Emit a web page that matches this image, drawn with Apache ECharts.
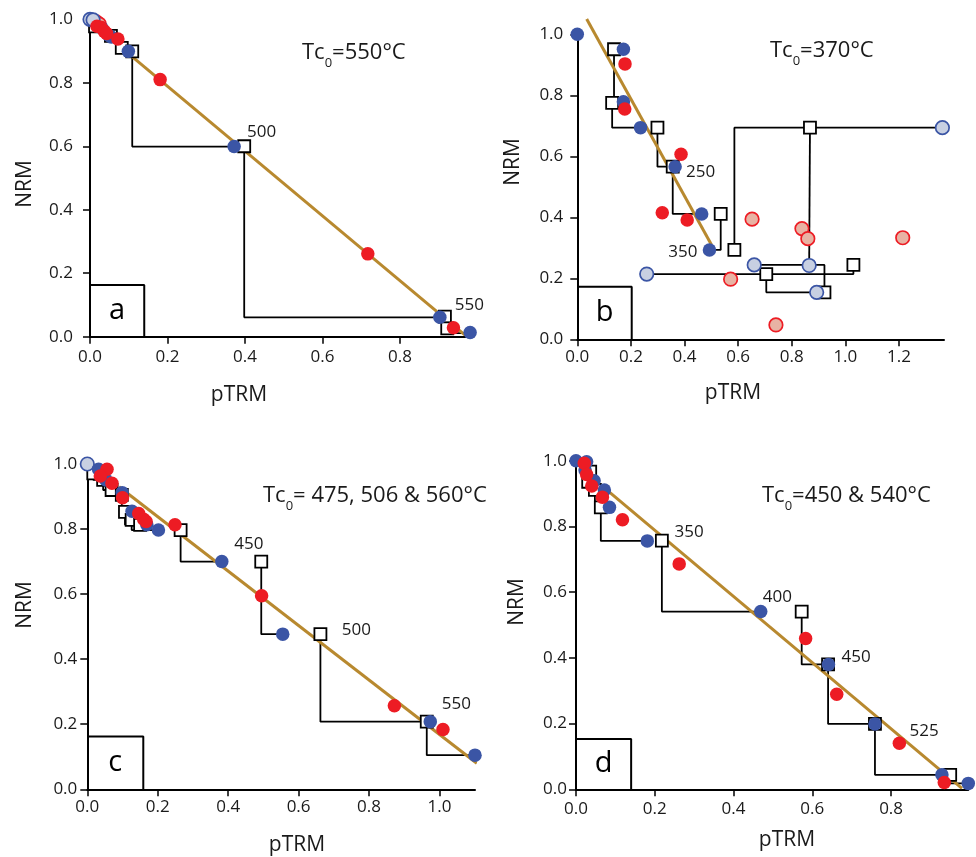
<!DOCTYPE html>
<html><head><meta charset="utf-8">
<script src="https://cdn.jsdelivr.net/npm/echarts@6/dist/echarts.min.js"></script>
<style>html,body{margin:0;padding:0;background:#fff}#c{width:976px;height:857px}</style>
</head><body><div id="c"></div><script>
const FONT = 'Open Sans';
// ---------- tick labels ----------
const yTicks = [0, 0.2, 0.4, 0.6, 0.8, 1.0];
const aXTicks = [0, 0.2, 0.4, 0.6, 0.8];
const bXTicks = [0, 0.2, 0.4, 0.6, 0.8, 1.0, 1.2];
const cXTicks = [0, 0.2, 0.4, 0.6, 0.8, 1.0];
const dXTicks = [0, 0.2, 0.4, 0.6, 0.8];

// ---------- panel a : Tc0 = 550 °C ----------
const aBlue = [[0.031,0.972],[0.048,0.950],[0.055,0.944],[0.099,0.899],[0.372,0.599],[0.903,0.061],[0.981,0.013]];
const aBluePale = [[0.0,1.0],[0.008,0.998]];
const aRed = [[0.018,0.978],[0.028,0.975],[0.037,0.962],[0.043,0.955],[0.072,0.938],[0.181,0.810],[0.717,0.261],[0.938,0.028]];
const aRedPale = [[0.016,0.992],[0.024,0.985]];
// pTRM checks: [checkPTRM, checkNRM, fromPTRM, fromNRM]
const aChecks = [[0.013,0.978,0.031,0.972],[0.054,0.948,0.072,0.938],[0.082,0.910,0.099,0.899],[0.109,0.899,0.372,0.599],[0.398,0.600,0.903,0.061],[0.916,0.063,0.981,0.011],[0.922,0.026,null,null]];
const aFit = [[0.06,0.932],[0.968,0.005]];
const aLabels = [[0.443,0.644,'500'],[0.979,0.100,'550']];
const aBox = [0.140,0.163];

// ---------- panel b : Tc0 = 370 °C ----------
const bBlue = [[0,1.0],[0.172,0.951],[0.172,0.779],[0.236,0.694],[0.365,0.566],[0.464,0.411],[0.493,0.293]];
const bBluePale = [[1.362,0.694],[0.259,0.214],[0.660,0.244],[0.865,0.242],[0.893,0.154]];
const bRed = [[0.178,0.903],[0.177,0.755],[0.387,0.607],[0.317,0.415],[0.410,0.391]];
const bRedPale = [[0.652,0.394],[0.838,0.363],[0.860,0.330],[1.214,0.333],[0.572,0.197],[0.741,0.047]];
const bChecks = [[0.137,0.951,0.172,0.779],[0.130,0.775,0.236,0.694],[0.299,0.694,0.365,0.566],[0.356,0.566,0.464,0.411],[0.535,0.411,0.493,0.293],[0.586,0.293,1.362,0.694],[0.868,0.694,0.865,0.242],[1.030,0.244,0.259,0.214],[0.705,0.214,0.893,0.154],[0.922,0.154,0.660,0.244]];
const bFit = [[0.035,1.050],[0.501,0.309]];
const bLabels = [[0.460,0.548,'250'],[0.394,0.285,'350']];
const bBox = [0.203,0.172];

// ---------- panel c : Tc0 = 475, 506 & 560 °C ----------
const cBlue = [[0.032,0.984],[0.053,0.951],[0.099,0.912],[0.127,0.855],[0.169,0.813],[0.202,0.797],[0.382,0.700],[0.555,0.477],[0.974,0.208],[1.101,0.105]];
const cBluePale = [[0,1.0]];
const cRed = [[0.056,0.984],[0.037,0.963],[0.070,0.941],[0.100,0.896],[0.146,0.848],[0.160,0.830],[0.167,0.823],[0.249,0.813],[0.495,0.595],[0.872,0.257],[1.010,0.184]];
const cRedPale = [];
const cChecks = [[0.017,0.971,0.053,0.951],[0.045,0.951,0.069,0.920],[0.069,0.920,0.099,0.912],[0.098,0.905,0.127,0.855],[0.107,0.853,0.169,0.813],[0.126,0.828,0.202,0.797],[0.150,0.813,null,null],[0.265,0.797,0.382,0.700],[0.494,0.700,0.555,0.477],[0.662,0.477,0.974,0.208],[0.964,0.208,1.101,0.105]];
const cFit = [[0.09,0.930],[1.106,0.080]];
const cLabels = [[0.459,0.753,'450'],[0.764,0.488,'500'],[1.048,0.261,'550']];
const cBox = [0.159,0.162];

// ---------- panel d : Tc0 = 450 & 540 °C ----------
const dBlue = [[0.0,1.0],[0.027,0.997],[0.023,0.972],[0.046,0.939],[0.072,0.911],[0.085,0.858],[0.181,0.756],[0.469,0.541],[0.641,0.380],[0.759,0.199],[0.929,0.044],[0.996,0.018]];
const dBluePale = [];
const dRed = [[0.021,0.992],[0.027,0.958],[0.040,0.923],[0.067,0.889],[0.118,0.820],[0.262,0.686],[0.583,0.459],[0.662,0.289],[0.821,0.140],[0.935,0.021]];
const dRedPale = [];
const dChecks = [[0.036,0.967,0.046,0.939],[0.031,0.936,0.072,0.911],[0.048,0.911,0.085,0.858],[0.063,0.858,0.181,0.756],[0.218,0.757,0.469,0.541],[0.573,0.541,0.641,0.380],[0.640,0.380,0.759,0.199],[0.759,0.199,0.929,0.044],[0.950,0.044,0.996,0.018]];
const dFit = [[0.078,0.911],[0.980,0.003]];
const dLabels = [[0.287,0.782,'350'],[0.511,0.584,'400'],[0.711,0.402,'450'],[0.884,0.178,'525']];
const dBox = [0.140,0.153];

// ---------- layout ----------
const panels = [
  {letter:'a', grid:{left:90,top:19.3,width:377,height:317.4}, xMax:0.973, xTicks:aXTicks, ylm:17, xlm:12,
   blue:aBlue, bluePale:aBluePale, red:aRed, redPale:aRedPale, checks:aChecks, fit:aFit, labels:aLabels, box:aBox,
   tc:['550°C'], tcPos:[302,42], nrm:[25,184], ptrm:[239,395]},
  {letter:'b', grid:{left:577.3,top:34.3,width:366.7,height:305}, xMax:1.368, xTicks:bXTicks, ylm:14, xlm:9,
   blue:bBlue, bluePale:bBluePale, red:bRed, redPale:bRedPale, checks:bChecks, fit:bFit, labels:bLabels, box:bBox,
   tc:['370°C'], tcPos:[770,40], nrm:[513,162], ptrm:[733,393]},
  {letter:'c', grid:{left:87.3,top:464,width:387.7,height:325.3}, xMax:1.101, xTicks:cXTicks, ylm:10, xlm:9,
   blue:cBlue, bluePale:cBluePale, red:cRed, redPale:cRedPale, checks:cChecks, fit:cFit, labels:cLabels, box:cBox,
   tc:[' 475, 506 & 560°C'], tcPos:[263,485], nrm:[25,605], ptrm:[297,845]},
  {letter:'d', grid:{left:576,top:460.7,width:392.3,height:328.6}, xMax:0.996, xTicks:dXTicks, ylm:9, xlm:11,
   blue:dBlue, bluePale:dBluePale, red:dRed, redPale:dRedPale, checks:dChecks, fit:dFit, labels:dLabels, box:dBox,
   tc:['450 & 540°C'], tcPos:[762,485], nrm:[517,602], ptrm:[787,840]}
];

const BLUE = '#3b55a5', RED = '#ed1c24', PALEB = '#c8d0e2', PALER = '#e8b3a4', FIT = '#b8892f', TXT = '#1a1a1a';
const grids = [], xAxes = [], yAxes = [], series = [], graphics = [];
const fmt = v => v.toFixed(1);

panels.forEach((p, i) => {
  grids.push(Object.assign({containLabel:false}, p.grid));
  xAxes.push({type:'value', gridIndex:i, min:0, max:p.xMax,
    axisLine:{show:true,onZero:false,lineStyle:{color:'#000',width:2}},
    axisTick:{show:true,length:7,customValues:p.xTicks,lineStyle:{color:'#000',width:1.5}},
    axisLabel:{show:true,margin:p.xlm,customValues:p.xTicks,formatter:fmt,fontSize:17,fontFamily:FONT,color:TXT},
    splitLine:{show:false}});
  yAxes.push({type:'value', gridIndex:i, min:0, max:1.0,
    axisLine:{show:true,onZero:false,lineStyle:{color:'#000',width:2}},
    axisTick:{show:true,length:7,customValues:yTicks,lineStyle:{color:'#000',width:1.5}},
    axisLabel:{show:true,margin:p.ylm,customValues:yTicks,formatter:fmt,fontSize:17,fontFamily:FONT,color:TXT},
    splitLine:{show:false}});
  const base = {xAxisIndex:i, yAxisIndex:i, silent:true, animation:false};
  // pTRM check paths
  p.checks.forEach(c => {
    if (c[2] == null) return;
    series.push(Object.assign({type:'line', data:[[c[2],c[3]],[c[0],c[3]],[c[0],c[1]]], symbol:'none',
      lineStyle:{color:'#000',width:1.8}, z:2}, base));
  });
  // panel letter box
  series.push(Object.assign({type:'line', data:[[0,p.box[1]],[p.box[0],p.box[1]],[p.box[0],0]], symbol:'none',
    lineStyle:{color:'#000',width:2}, z:2}, base));
  series.push(Object.assign({type:'scatter', data:[[p.box[0]/2,p.box[1]/2,p.letter]], symbolSize:1, itemStyle:{color:'rgba(0,0,0,0)',opacity:1},
    label:{show:true,position:'inside',formatter:q=>q.data[2],fontSize:29,fontFamily:FONT,color:'#000',opacity:1}, z:6, clip:false}, base));
  // best-fit line
  series.push(Object.assign({type:'line', data:p.fit, symbol:'none', lineStyle:{color:FIT,width:3}, z:3, clip:false}, base));
  // check squares
  series.push(Object.assign({type:'scatter', data:p.checks.map(c=>[c[0],c[1]]), symbol:'rect', symbolSize:12,
    itemStyle:{color:'#fff',borderColor:'#000',borderWidth:1.8,opacity:1}, z:4, clip:false}, base));
  // excluded points
  series.push(Object.assign({type:'scatter', data:p.redPale, symbolSize:13.5, itemStyle:{color:PALER,borderColor:RED,borderWidth:1.7,opacity:1}, z:5, clip:false}, base));
  series.push(Object.assign({type:'scatter', data:p.bluePale, symbolSize:13.5, itemStyle:{color:PALEB,borderColor:BLUE,borderWidth:1.7,opacity:1}, z:5, clip:false}, base));
  // accepted points
  series.push(Object.assign({type:'scatter', data:p.blue, symbolSize:13.5, itemStyle:{color:BLUE,opacity:1}, z:5, clip:false}, base));
  series.push(Object.assign({type:'scatter', data:p.red, symbolSize:13.5, itemStyle:{color:RED,opacity:1}, z:5, clip:false}, base));
  // temperature labels
  series.push(Object.assign({type:'scatter', data:p.labels, symbolSize:1, itemStyle:{color:'rgba(0,0,0,0)',opacity:1},
    label:{show:true,position:'inside',formatter:q=>q.data[2],fontSize:17,fontFamily:FONT,color:TXT,opacity:1}, z:6, clip:false}, base));
  // texts
  graphics.push({type:'text', x:p.tcPos[0], y:p.tcPos[1], z:10, style:{
    text:'{m|Tc}{s|0}{m|=' + p.tc[0] + '}', textAlign:'left', textVerticalAlign:'top',
    rich:{m:{fontSize:22,fontFamily:FONT,fill:TXT,lineHeight:25,verticalAlign:'top'},
          s:{fontSize:13,fontFamily:FONT,fill:TXT,lineHeight:13,padding:[15,0,0,0],verticalAlign:'top'}}}});
  graphics.push({type:'text', x:p.nrm[0], y:p.nrm[1], rotation:Math.PI/2, z:10,
    style:{text:'NRM', fontSize:21, fontFamily:FONT, fill:TXT, textAlign:'center', textVerticalAlign:'middle'}});
  graphics.push({type:'text', x:p.ptrm[0], y:p.ptrm[1], z:10,
    style:{text:'pTRM', fontSize:21, fontFamily:FONT, fill:TXT, textAlign:'center', textVerticalAlign:'middle'}});
});

const chart = echarts.init(document.getElementById('c'), null, {renderer:'canvas'});
chart.setOption({animation:false, backgroundColor:'#fff', grid:grids, xAxis:xAxes, yAxis:yAxes, series:series, graphic:graphics});
</script></body></html>
